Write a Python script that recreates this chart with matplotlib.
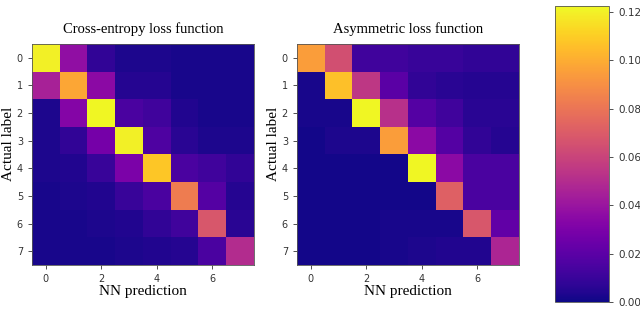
import numpy as np
import matplotlib
matplotlib.use("Agg")
import matplotlib.pyplot as plt

titles = ['Cross-entropy loss function', 'Asymmetric loss function']

# confusion matrices (rows: actual label, cols: NN prediction)
cross_entropy = [
    [0.120, 0.037, 0.008, 0.003, 0.003, 0.002, 0.002, 0.002],
    [0.045, 0.098, 0.035, 0.005, 0.005, 0.002, 0.002, 0.002],
    [0.003, 0.033, 0.122, 0.015, 0.012, 0.004, 0.002, 0.002],
    [0.003, 0.008, 0.028, 0.120, 0.016, 0.006, 0.003, 0.003],
    [0.003, 0.004, 0.010, 0.030, 0.108, 0.015, 0.012, 0.008],
    [0.002, 0.003, 0.004, 0.010, 0.015, 0.083, 0.018, 0.005],
    [0.002, 0.002, 0.003, 0.004, 0.008, 0.012, 0.068, 0.006],
    [0.002, 0.002, 0.002, 0.003, 0.004, 0.005, 0.015, 0.050],
]
asymmetric = [
    [0.095, 0.065, 0.012, 0.012, 0.010, 0.010, 0.008, 0.008],
    [0.002, 0.106, 0.055, 0.020, 0.008, 0.006, 0.005, 0.005],
    [0.002, 0.002, 0.122, 0.052, 0.018, 0.012, 0.006, 0.006],
    [0.001, 0.003, 0.003, 0.095, 0.035, 0.018, 0.008, 0.005],
    [0.001, 0.001, 0.001, 0.001, 0.122, 0.035, 0.015, 0.015],
    [0.001, 0.001, 0.001, 0.001, 0.001, 0.072, 0.015, 0.015],
    [0.001, 0.001, 0.001, 0.002, 0.002, 0.002, 0.068, 0.022],
    [0.001, 0.001, 0.001, 0.002, 0.003, 0.004, 0.004, 0.047],
]
cbar_ticks = [0.00, 0.02, 0.04, 0.06, 0.08, 0.10, 0.12]

serif = 'Liberation Serif'
fig = plt.figure(figsize=(6.4, 3.1), dpi=100)

axes = [fig.add_axes([32/640, 1-265/310, 222/640, 221/310]),
        fig.add_axes([297/640, 1-265/310, 222/640, 221/310])]
for ax, mat, title in zip(axes, [cross_entropy, asymmetric], titles):
    im = ax.imshow(np.array(mat), cmap='plasma', vmin=0, vmax=0.1225, aspect='auto')
    ax.set_title(title, fontfamily=serif, fontsize=10.5, pad=8)
    ax.set_xlabel('NN prediction', fontfamily=serif, fontsize=11, labelpad=1)
    ax.set_ylabel('Actual label', fontfamily=serif, fontsize=11)
    ax.yaxis.set_label_coords(-17/222, 0.55)
    ax.set_xticks([0, 2, 4, 6])
    ax.set_yticks(range(8))
    ax.tick_params(labelsize=7, colors='#333333', length=3, width=0.6)
    for s in ax.spines.values():
        s.set_linewidth(0.6)
        s.set_color('#555555')

cax = fig.add_axes([555/640, 1-302/310, 54/640, 296/310])
cb = fig.colorbar(im, cax=cax, ticks=cbar_ticks)
cb.ax.set_yticklabels([f'{t:.2f}' for t in cbar_ticks])
cb.ax.tick_params(labelsize=7.5, colors='#333333', length=3, width=0.6)
cb.outline.set_linewidth(0.6)
cb.outline.set_edgecolor('#555555')

plt.savefig('out.png', dpi=100)
plt.close()
